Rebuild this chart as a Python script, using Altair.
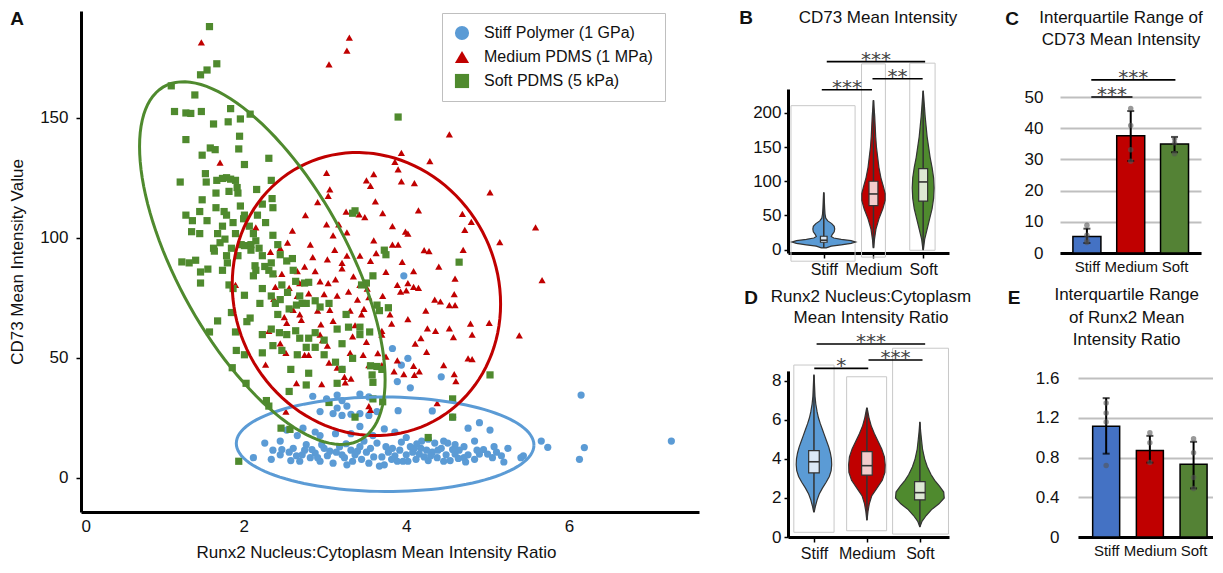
import json
import numpy as np
import pandas as pd
import altair as alt

FONT = "Liberation Sans"
INK = "#111111"

# ====================== Panel A : scatter ======================
SUBSTRATES = ["Stiff Polymer (1 GPa)", "Medium PDMS (1 MPa)", "Soft PDMS (5 kPa)"]
SCATTER_COLORS = ["#5b9bd5", "#c00000", "#4f8a2e"]
ELLIPSE_COLORS = ["#5b9bd5", "#c00000", "#4f8a2e"]
SHAPES = ["circle", "triangle-up", "square"]

stiff_pts = [
    (3.97, 84.2), (3.83, 53.9), (4.02, 49.8), (3.94, 47.0), (3.21, 45.2), (4.43, 42.1), (4.05, 37.5),
    (3.89, 40.1), (6.15, 34.5), (2.85, 34.0), (3.02, 32.9), (3.15, 34.5), (3.21, 32.2), (3.43, 34.9),
    (3.54, 33.7), (3.15, 29.1), (3.27, 29.9), (2.94, 27.6), (3.10, 26.8), (3.21, 26.0), (3.32, 26.5),
    (3.43, 26.8), (3.54, 26.0), (3.64, 27.6), (3.90, 28.0), (4.32, 27.9), (4.57, 25.3), (4.90, 23.0),
    (5.03, 19.9), (4.76, 20.7), (2.53, 19.9), (2.73, 20.7), (2.94, 17.6), (3.13, 18.4), (3.43, 21.4),
    (3.73, 20.4), (3.86, 19.1), (4.00, 16.8), (4.19, 15.3), (4.35, 14.5), (4.46, 15.3), (4.60, 13.8),
    (4.84, 15.3), (5.66, 15.3), (5.74, 12.7), (7.26, 15.3), (6.13, 7.7), (6.19, 12.6),
    (2.34, 7.7), (2.36, 11.5), (2.47, 11.8), (2.56, 10.7), (2.61, 12.3), (2.65, 9.2), (2.69, 6.9),
    (2.75, 11.5), (2.82, 8.4), (2.88, 10.3), (2.94, 6.9), (2.99, 12.3), (3.03, 9.2), (3.10, 6.1),
    (3.14, 10.7), (3.18, 13.0), (3.24, 8.4), (3.27, 5.4), (3.32, 11.5), (3.37, 9.6), (3.43, 13.0),
    (3.45, 7.7), (3.51, 10.7), (3.56, 12.3), (3.60, 8.7), (3.67, 4.9), (3.73, 5.4), (3.78, 10.7),
    (3.82, 7.7), (3.86, 9.2), (3.92, 11.5), (3.96, 6.9), (4.00, 9.6), (4.05, 13.0), (4.08, 10.7),
    (4.12, 7.7), (4.18, 12.3), (4.22, 8.7), (4.27, 7.2), (4.32, 10.7), (4.38, 8.4), (4.43, 12.3),
    (4.49, 9.6), (4.54, 7.2), (4.60, 9.9), (4.65, 11.5), (4.71, 8.4), (4.76, 9.6), (4.84, 7.7),
    (4.90, 9.9), (4.95, 11.8), (5.06, 8.4), (5.11, 10.7), (5.17, 9.2), (5.25, 12.3), (5.41, 8.4),
    (5.44, 9.2), (2.45, 9.6), (2.58, 7.2), (2.72, 9.6), (2.84, 11.8), (2.91, 8.4), (3.06, 11.1),
    (3.21, 9.6), (3.34, 6.9), (3.40, 11.1), (3.54, 6.1), (3.70, 8.7), (3.75, 13.0), (3.83, 12.3),
    (3.89, 6.9), (4.02, 6.9), (4.10, 12.3), (4.16, 9.9), (4.25, 11.5), (4.30, 9.2), (4.39, 11.5),
    (4.46, 6.9), (4.57, 11.8), (4.64, 8.1), (4.73, 6.6), (4.87, 11.5), (5.00, 9.9), (5.20, 6.6),
    (5.08, 13.0), (2.77, 13.8), (2.96, 13.8), (3.26, 14.2), (3.48, 15.3), (3.64, 14.5), (3.94, 14.9),
    (4.13, 14.2), (4.27, 16.1), (4.51, 14.5), (4.71, 13.0), (2.26, 14.5), (2.12, 8.4), (2.88, 19.1),
    (2.66, 17.6), (2.45, 15.3), (3.32, 18.4), (3.59, 17.6),
]

medium_pts = [
    (1.48, 181.5), (3.30, 183.5), (3.27, 178.1), (3.05, 172.3), (4.53, 143.2), (3.94, 135.5), (3.86, 131.7),
    (3.90, 128.6), (4.29, 132.0), (1.71, 131.4), (3.02, 127.1), (3.60, 126.6), (3.51, 124.0), (3.94, 123.6),
    (4.10, 122.8), (3.56, 121.7), (5.03, 119.0), (3.06, 120.2), (3.04, 117.5), (2.91, 114.9), (3.62, 115.2),
    (4.15, 111.5), (2.76, 109.5), (3.26, 111.0), (3.42, 109.8), (3.49, 108.7), (3.71, 110.3), (4.69, 110.0),
    (4.80, 106.7), (5.59, 104.4), (4.72, 103.4), (5.15, 98.3), (2.15, 104.4), (3.02, 105.7), (3.17, 105.7),
    (3.10, 101.1), (3.27, 102.3), (3.83, 104.9), (3.99, 102.6), (4.02, 101.8), (2.54, 98.0), (2.82, 97.2),
    (2.45, 95.7), (2.33, 94.2), (3.27, 92.6), (3.43, 92.6), (3.03, 91.1), (3.63, 93.7), (3.83, 97.2),
    (3.90, 97.2), (4.22, 94.9), (4.28, 94.5), (3.21, 89.6), (3.56, 90.4), (2.37, 85.0), (2.47, 85.0),
    (2.66, 86.2), (2.88, 86.2), (3.21, 87.3), (3.75, 85.8), (4.09, 86.2), (4.60, 83.0), (5.67, 82.4),
    (1.90, 80.4), (2.39, 79.6), (2.56, 79.2), (2.69, 81.2), (2.94, 81.9), (3.04, 81.2), (3.13, 82.7),
    (3.43, 80.4), (3.52, 78.9), (3.89, 80.4), (4.02, 81.2), (4.09, 79.6), (4.15, 79.2), (3.93, 77.6),
    (4.00, 78.1), (2.37, 74.6), (2.66, 75.8), (2.80, 76.9), (2.99, 76.6), (3.29, 77.6), (3.40, 74.3),
    (3.54, 75.3), (3.71, 75.8), (4.35, 74.3), (4.42, 73.5), (4.53, 72.0), (4.60, 72.0), (4.59, 76.6),
    (2.61, 70.0), (2.69, 68.1), (2.91, 69.7), (3.06, 70.0), (3.31, 69.7), (3.45, 68.1), (3.48, 70.4),
    (3.80, 68.1), (4.24, 69.7), (2.31, 61.3), (2.53, 64.6), (2.71, 65.8), (3.10, 65.4), (3.37, 63.6),
    (3.70, 61.3), (3.82, 64.3), (4.02, 66.2), (4.26, 62.3), (4.36, 61.3), (4.53, 62.3), (4.79, 64.3),
    (4.81, 59.7), (5.02, 64.6), (5.39, 59.4), (2.94, 59.7), (2.97, 57.4), (3.03, 55.1), (3.34, 59.0),
    (3.51, 56.7), (3.70, 59.7), (4.11, 55.9), (4.18, 58.2), (4.58, 58.7), (2.52, 52.1), (2.75, 51.3),
    (2.80, 51.3), (3.31, 52.1), (3.47, 51.3), (3.75, 50.5), (3.89, 49.0), (4.25, 52.5), (4.76, 49.8),
    (4.81, 49.5), (2.27, 47.2), (3.15, 45.9), (3.54, 47.0), (3.70, 47.0), (3.85, 44.4), (4.09, 46.7),
    (4.16, 44.4), (4.46, 47.0), (3.24, 42.1), (3.32, 41.3), (3.97, 43.2), (4.10, 42.9), (4.59, 43.2),
    (4.61, 40.3), (2.65, 39.5), (2.96, 39.1), (3.25, 39.8), (3.54, 29.9), (3.56, 28.3), (2.52, 27.6),
    (4.38, 31.1), (2.85, 92.0), (3.12, 95.0), (2.60, 103.0), (2.75, 88.0), (3.35, 84.0), (3.60, 99.0),
    (2.50, 67.0), (2.95, 64.0), (3.65, 52.0), (3.05, 48.0), (2.45, 56.0), (4.40, 88.0), (3.95, 90.0),
    (4.70, 95.0), (3.15, 76.0),
]

soft_pts = [
    (1.58, 188.1), (1.67, 172.6), (1.55, 170.0), (1.47, 168.0), (1.11, 163.4), (1.40, 159.6), (1.15, 152.7),
    (1.29, 152.1), (1.35, 151.9), (1.48, 152.7), (1.84, 153.9), (1.96, 149.6), (2.08, 151.6), (1.29, 141.0),
    (1.63, 147.5), (1.81, 148.4), (1.95, 142.4), (1.94, 137.1), (1.49, 134.5), (1.59, 137.5), (1.65, 136.8),
    (2.31, 133.2), (2.01, 130.6), (1.22, 123.3), (1.53, 126.8), (1.54, 123.3), (1.67, 124.0), (1.74, 124.8),
    (1.79, 125.1), (1.84, 124.5), (1.90, 124.0), (1.92, 121.0), (1.93, 118.7), (1.82, 119.4), (1.66, 118.7),
    (1.49, 115.9), (2.16, 120.2), (2.34, 124.0), (2.35, 116.4), (1.46, 111.0), (1.55, 107.2), (1.29, 109.5),
    (1.37, 107.2), (1.36, 102.6), (1.46, 101.8), (1.76, 111.0), (1.79, 109.5), (1.87, 106.4), (1.96, 113.3),
    (2.00, 108.0), (2.07, 104.9), (2.17, 109.5), (2.36, 112.6), (2.27, 106.4), (1.24, 90.0), (1.33, 89.6),
    (1.41, 90.7), (1.47, 85.8), (1.47, 81.2), (1.56, 87.0), (1.63, 95.7), (1.64, 94.5), (1.71, 98.0),
    (1.77, 99.5), (1.79, 92.6), (1.80, 89.6), (1.85, 95.7), (1.90, 101.8), (1.97, 97.2), (2.01, 96.8),
    (2.09, 97.2), (2.12, 101.8), (2.15, 98.8), (2.09, 94.9), (2.19, 95.7), (2.23, 92.6), (2.14, 88.4),
    (2.15, 86.5), (2.26, 88.1), (2.34, 89.6), (2.31, 86.5), (2.36, 85.0), (1.82, 80.4), (2.01, 76.1),
    (2.08, 66.6), (1.85, 68.9), (1.68, 65.4), (1.58, 60.8), (1.90, 60.8), (1.91, 53.1), (2.01, 51.3),
    (1.86, 45.9), (2.03, 39.4), (2.28, 32.2), (2.31, 29.9), (2.46, 20.7), (2.57, 20.2), (1.94, 6.9),
    (2.45, 93.0), (2.53, 90.4), (2.60, 91.4), (2.61, 86.5), (2.47, 80.4), (2.54, 77.3), (2.64, 81.9),
    (2.69, 75.8), (2.75, 81.2), (2.80, 81.5), (2.39, 72.7), (2.42, 68.1), (2.45, 74.3), (2.56, 70.4),
    (2.65, 72.0), (2.72, 72.7), (2.77, 72.7), (2.88, 73.8), (2.94, 71.2), (3.05, 72.7), (2.34, 62.0),
    (2.44, 60.5), (2.53, 59.7), (2.64, 61.3), (2.69, 58.2), (2.80, 58.2), (2.88, 60.5), (2.99, 57.4),
    (3.15, 62.0), (3.21, 55.9), (3.26, 68.1), (3.29, 62.8), (3.43, 62.8), (3.43, 59.7), (3.55, 60.8),
    (3.64, 72.0), (3.67, 69.7), (3.78, 70.9), (2.23, 52.1), (2.36, 55.1), (2.47, 53.1), (2.58, 45.2),
    (2.77, 54.4), (2.88, 54.4), (2.99, 51.3), (3.13, 48.2), (3.21, 45.2), (3.34, 49.8), (3.56, 46.7),
    (3.58, 42.9), (3.64, 46.4), (3.70, 45.2), (2.56, 36.0), (2.77, 38.7), (3.15, 39.4), (3.59, 39.8),
    (3.71, 31.7), (3.37, 111.3), (3.34, 110.3), (3.51, 81.2), (3.59, 84.2), (3.73, 94.9), (3.75, 93.0),
    (3.45, 80.4), (3.90, 150.4), (4.65, 89.9), (5.03, 42.9), (4.57, 32.9), (4.57, 25.3), (4.27, 16.8),
    (1.74, 104.9), (1.68, 101.8), (1.93, 92.6), (1.74, 86.5), (2.12, 84.2), (2.23, 78.9), (2.34, 75.8),
    (1.87, 78.9), (2.20, 72.7), (2.01, 109.5), (1.66, 112.6), (2.23, 114.1), (2.36, 101.1), (2.42, 97.2),
    (2.04, 65.1), (2.23, 59.7), (2.66, 51.3), (2.80, 43.6), (3.05, 31.4), (3.37, 25.3), (3.59, 32.9),
]

# ellipse outlines (centre, semi-extent along x / y, phase between x and y)
ell_cx = [3.74, 3.51, 2.23]
ell_cy = [14.0, 76.6, 89.5]
ell_rx = [1.83, 1.65, 1.51]
ell_ry = [19.7, 59.0, 75.6]
ell_phase = [91.0, 94.0, 130.0]

# ====================== Panels B-E ======================
GROUPS = ["Stiff", "Medium", "Soft"]
VIOLIN_COLORS = ["#5b9bd5", "#c00000", "#4f8a2e"]
BOX_COLORS = ["#dbe8f6", "#f3cccc", "#dde8d4"]
BAR_COLORS = ["#4472c4", "#c00000", "#548235"]

# B: CD73 violin profiles (value, half width in group units)
B_vals = [
    [2.5, 5, 7, 9, 11, 13, 15, 17, 19, 22, 26, 30, 34, 38, 42, 46, 52, 60, 70, 83],
    [3, 15, 30, 45, 60, 72, 82, 92, 105, 120, 135, 150, 165, 180, 195, 208, 218],
    [0, 15, 30, 45, 60, 75, 90, 105, 120, 135, 150, 165, 180, 195, 210, 225, 232],
]
B_hw = [
    [0.05, 0.15, 0.35, 0.55, 0.64, 0.55, 0.35, 0.2, 0.15, 0.17, 0.21, 0.22, 0.21, 0.16, 0.08, 0.04, 0.025, 0.018, 0.012, 0.004],
    [0.005, 0.02, 0.05, 0.11, 0.19, 0.235, 0.235, 0.2, 0.15, 0.11, 0.085, 0.06, 0.045, 0.035, 0.025, 0.012, 0.003],
    [0.005, 0.03, 0.08, 0.13, 0.18, 0.21, 0.22, 0.21, 0.18, 0.14, 0.11, 0.08, 0.06, 0.04, 0.025, 0.01, 0.002],
]
B_lo = [2.5, 3, 0]
B_q1 = [10.7, 64.4, 71]
B_med = [13.7, 81.4, 99]
B_q3 = [19.5, 100, 118.5]
B_hi = [83, 218, 232]
B_box_hw = [0.067, 0.09, 0.09]
B_frame_x0 = [-0.66, 0.76, 1.73]
B_frame_x1 = [0.63, 1.24, 2.24]
B_frame_y0 = [-17, -11, -1]
B_frame_y1 = [210.6, 271.8, 272.8]
B_br_x0 = [-0.04, 0.98, 0.06]
B_br_x1 = [0.97, 1.99, 2.04]
B_br_level = [234, 250, 275]
B_br_stars = ["***", "**", "***"]

# C: IQR of CD73
C_iqr = [5.3, 37.6, 34.9]
C_lo = [3.2, 29.5, 32.3]
C_hi = [7.8, 45.5, 37.2]
C_dots = [[8.9, 5.7, 4.0, 3.4], [46.3, 40.9, 33.1, 29.4], [36.6, 35.3, 31.8]]
C_br_x0 = [0.10, 0.10]
C_br_x1 = [1.04, 2.02]
C_br_level = [50, 55.5]
C_br_stars = ["***", "***"]

# D: Runx2 ratio violins
D_vals = [
    [1.28, 1.6, 1.9, 2.2, 2.5, 2.8, 3.1, 3.4, 3.7, 4.0, 4.3, 4.6, 4.9, 5.2, 5.5, 5.8, 6.1, 6.4, 6.8, 7.2, 7.7, 8.28],
    [0.87, 1.3, 1.7, 2.1, 2.5, 2.9, 3.3, 3.7, 4.1, 4.5, 4.9, 5.3, 5.7, 6.1, 6.6],
    [0.53, 0.8, 1.1, 1.4, 1.7, 2.0, 2.3, 2.6, 2.9, 3.2, 3.6, 4.0, 4.5, 5.0, 5.4, 5.87],
]
D_hw = [
    [0.005, 0.03, 0.06, 0.1, 0.16, 0.23, 0.29, 0.325, 0.335, 0.33, 0.31, 0.28, 0.24, 0.2, 0.16, 0.12, 0.085, 0.06, 0.035, 0.02, 0.012, 0.003],
    [0.003, 0.02, 0.045, 0.09, 0.19, 0.29, 0.34, 0.345, 0.33, 0.28, 0.21, 0.14, 0.08, 0.04, 0.005],
    [0.003, 0.04, 0.12, 0.22, 0.36, 0.46, 0.45, 0.37, 0.28, 0.21, 0.14, 0.09, 0.05, 0.03, 0.015, 0.002],
]
D_lo = [1.28, 0.87, 0.53]
D_q1 = [3.28, 3.17, 1.9]
D_med = [3.85, 3.65, 2.27]
D_q3 = [4.42, 4.37, 2.83]
D_hi = [8.28, 6.6, 5.87]
D_box_hw = [0.1, 0.1, 0.1]
D_frame_x0 = [-0.38, 0.617, 1.485]
D_frame_x1 = [0.38, 1.372, 2.54]
D_frame_y0 = [0.24, 0.32, 0.15]
D_frame_y1 = [8.8, 8.2, 9.66]
D_br_x0 = [0.006, 1.03, 0.05]
D_br_x1 = [1.025, 2.05, 2.1]
D_br_level = [8.63, 9.06, 9.88]
D_br_stars = ["*", "***", "***"]

# E: IQR of Runx2 ratio
E_iqr = [1.116, 0.873, 0.733]
E_lo = [0.84, 0.75, 0.49]
E_hi = [1.40, 1.02, 0.96]
E_dots = [[1.35, 1.25, 1.16, 0.72], [1.05, 0.95, 0.75], [0.99, 0.85, 0.60, 0.49]]

LABEL_EXPR = json.dumps(GROUPS) + "[datum.value]"


def text_mark(txt, x, y, size=17, weight="normal", baseline="top", line_height=22):
    return alt.Chart(pd.DataFrame({"label": [txt]})).mark_text(
        font=FONT, fontSize=size, fontWeight=weight, color=INK, align="center",
        baseline=baseline, lineBreak="\n", lineHeight=line_height,
    ).encode(text="label:N", x=alt.value(x), y=alt.value(y))


def letter_mark(ch, x, y):
    return text_mark(ch, x, y, size=19, weight="bold", baseline="middle")


def bracket_layers(x0, x1, level, stars):
    df = pd.DataFrame({"x0": x0, "x1": x1, "level": level, "stars": stars})
    rules = alt.Chart(df).mark_rule(color="black", strokeWidth=1.6).encode(
        x=alt.X("x0:Q", title=None), x2="x1:Q", y=alt.Y("level:Q", title=None)
    )
    text = alt.Chart(df).transform_calculate(mid="(datum.x0 + datum.x1) / 2").mark_text(
        font="DejaVu Sans", fontSize=20, color="#444444", baseline="alphabetic", dy=4
    ).encode(x=alt.X("mid:Q", title=None), y=alt.Y("level:Q", title=None), text="stars:N")
    return [rules, text]


def violin_layers(vals, hws, lo, q1, med, q3, hi, box_hw, fx0, fx1, fy0, fy1,
                  bx0, bx1, blevel, bstars, xdom, xrange, ydom, yrange, yvalues, x_offset):
    vrows = []
    for i, g in enumerate(GROUPS):
        for v, w in zip(vals[i], hws[i]):
            vrows.append({"group": g, "pos": i, "value": v, "hw": w})
    vdf = pd.DataFrame(vrows)
    sdf = pd.DataFrame({"group": GROUPS, "pos": [0, 1, 2], "lo": lo, "q1": q1, "med": med,
                        "q3": q3, "hi": hi, "bw": box_hw})
    fdf = pd.DataFrame({"x0": fx0, "x1": fx1, "y0": fy0, "y1": fy1})

    xs = alt.Scale(domain=xdom, range=xrange, nice=False, zero=False)
    ys = alt.Scale(domain=ydom, range=yrange, nice=False, zero=False)
    xax = alt.Axis(orient="bottom", offset=x_offset, values=[0, 1, 2], labelExpr=LABEL_EXPR,
                   title=None, grid=False, domainColor="black", domainWidth=3, tickColor="black",
                   tickSize=5, tickWidth=1.5, labelPadding=3, labelFont=FONT, labelFontSize=16,
                   labelColor=INK)
    yax = alt.Axis(orient="left", values=yvalues, format="d", title=None, grid=False,
                   domainColor="black", domainWidth=3, tickColor="black", tickSize=4, tickWidth=1.5,
                   labelPadding=3, labelFont=FONT, labelFontSize=17, labelColor=INK)

    frames = alt.Chart(fdf).mark_rect(fillOpacity=0, stroke="#c8c8c8", strokeWidth=1).encode(
        x=alt.X("x0:Q", scale=xs, axis=xax), x2="x1:Q",
        y=alt.Y("y0:Q", scale=ys, axis=yax), y2="y1:Q",
    )
    violin = alt.Chart(vdf).transform_calculate(
        left="datum.pos - datum.hw", right="datum.pos + datum.hw"
    ).mark_area(orient="horizontal", stroke="#333333", strokeWidth=1.2, opacity=1).encode(
        y=alt.Y("value:Q", title=None),
        x=alt.X("left:Q", title=None, stack=None), x2="right:Q",
        color=alt.Color("group:N", scale=alt.Scale(domain=GROUPS, range=VIOLIN_COLORS), legend=None),
    )
    whisk = alt.Chart(sdf).mark_rule(color="#333333", strokeWidth=1.5).encode(
        x=alt.X("pos:Q", title=None), y=alt.Y("lo:Q", title=None), y2="hi:Q"
    )
    box = alt.Chart(sdf).transform_calculate(
        bl="datum.pos - datum.bw", br="datum.pos + datum.bw"
    ).mark_rect(stroke="#333333", strokeWidth=1.2).encode(
        x=alt.X("bl:Q", title=None), x2="br:Q", y=alt.Y("q1:Q", title=None), y2="q3:Q",
        fill=alt.Fill("group:N", scale=alt.Scale(domain=GROUPS, range=BOX_COLORS), legend=None),
    )
    median = alt.Chart(sdf).transform_calculate(
        bl="datum.pos - datum.bw", br="datum.pos + datum.bw"
    ).mark_rule(color="#333333", strokeWidth=1.6).encode(
        x=alt.X("bl:Q", title=None), x2="br:Q", y=alt.Y("med:Q", title=None)
    )
    layers = [frames, violin, whisk, box, median] + bracket_layers(bx0, bx1, blevel, bstars)
    return alt.layer(*layers)


def bar_layers(iqr, lo, hi, dots, xdom, xrange, ydom, yrange, yvalues, ylabel_pad, bar_size,
               brackets, x_offset, label_expr):
    bdf = pd.DataFrame({"group": GROUPS, "pos": [0, 1, 2], "iqr": iqr, "lo": lo, "hi": hi})
    drows = []
    for i, vals in enumerate(dots):
        for v in vals:
            drows.append({"pos": i, "val": v})
    ddf = pd.DataFrame(drows)

    xs = alt.Scale(domain=xdom, range=xrange, nice=False, zero=False)
    ys = alt.Scale(domain=ydom, range=yrange, nice=False, zero=False)
    xax = alt.Axis(orient="bottom", offset=x_offset, values=[0, 1, 2], labelExpr=LABEL_EXPR,
                   title=None, grid=False, domainColor="black", domainWidth=3, ticks=False,
                   labelPadding=6, labelFont=FONT, labelFontSize=15, labelColor=INK)
    yax = alt.Axis(orient="left", values=yvalues, labelExpr=label_expr, title=None, grid=True,
                   gridColor="#bfbfbf", gridWidth=2, domain=False, ticks=False,
                   labelPadding=ylabel_pad, labelFont=FONT, labelFontSize=17, labelColor=INK)

    bars = alt.Chart(bdf).mark_bar(size=bar_size, stroke="black", strokeWidth=1.5).encode(
        x=alt.X("pos:Q", scale=xs, axis=xax),
        y=alt.Y("iqr:Q", scale=ys, axis=yax),
        color=alt.Color("group:N", scale=alt.Scale(domain=GROUPS, range=BAR_COLORS), legend=None),
    )
    err = alt.Chart(bdf).mark_rule(color="black", strokeWidth=2).encode(
        x=alt.X("pos:Q", title=None), y=alt.Y("lo:Q", title=None), y2="hi:Q"
    )
    cap_lo = alt.Chart(bdf).mark_tick(orient="horizontal", size=7, thickness=2, color="black").encode(
        x=alt.X("pos:Q", title=None), y=alt.Y("lo:Q", title=None)
    )
    cap_hi = alt.Chart(bdf).mark_tick(orient="horizontal", size=7, thickness=2, color="black").encode(
        x=alt.X("pos:Q", title=None), y=alt.Y("hi:Q", title=None)
    )
    pts = alt.Chart(ddf).mark_circle(size=30, color="#555555", opacity=0.6).encode(
        x=alt.X("pos:Q", title=None), y=alt.Y("val:Q", title=None)
    )
    layers = [bars, err, cap_lo, cap_hi, pts]
    if brackets:
        layers += bracket_layers(*brackets)
    return alt.layer(*layers)


# ---------------- build panel A ----------------
rows = []
for name, pts in zip(SUBSTRATES, [stiff_pts, medium_pts, soft_pts]):
    for x, y in pts:
        rows.append({"substrate": name, "ratio": x, "cd73": y})
scatter_df = pd.DataFrame(rows)

tt = np.linspace(0, 2 * np.pi, 121)
erows = []
for i, name in enumerate(SUBSTRATES):
    ph = np.deg2rad(ell_phase[i])
    for k, t in enumerate(tt):
        erows.append({"ellipse": name, "k": k,
                      "ex": ell_cx[i] + ell_rx[i] * np.cos(t),
                      "ey": ell_cy[i] + ell_ry[i] * np.cos(t - ph)})
ell_df = pd.DataFrame(erows)

X_TITLE_A = "Runx2 Nucleus:Cytoplasm Mean Intensity Ratio"
Y_TITLE_A = "CD73 Mean Intensity Value"
xA_axis = alt.Axis(values=[0, 2, 4, 6], format="d", title=X_TITLE_A,
                   grid=False, ticks=False, domainColor="black", domainWidth=3, labelPadding=6,
                   labelFont=FONT, labelFontSize=17, labelColor=INK, titleFont=FONT,
                   titleFontSize=17, titleFontWeight="normal", titleColor=INK, titlePadding=10,
                   titleX=295, titleAlign="center")
yA_axis = alt.Axis(values=[0, 50, 100, 150], format="d", title=Y_TITLE_A, grid=False,
                   domainColor="black", domainWidth=3, tickColor="black", tickSize=5, tickWidth=1.5,
                   labelPadding=8, labelFont=FONT, labelFontSize=17, labelColor=INK,
                   titleFont=FONT, titleFontSize=17, titleFontWeight="normal", titleColor=INK,
                   titlePadding=13)
xA_scale = alt.Scale(domain=[0, 7.6], nice=False, zero=False)
yA_scale = alt.Scale(domain=[-14.25, 194.6], range=[504, 3], nice=False, zero=False)
legA = alt.Legend(title=None, orient="none", legendX=361, legendY=5, padding=12, rowPadding=8,
                  symbolSize=200, symbolStrokeWidth=0, labelFont=FONT, labelFontSize=16,
                  labelColor=INK, labelOffset=14, labelLimit=400, strokeColor="#bfbfbf",
                  fillColor="white")

pointsA = alt.Chart(scatter_df).mark_point(filled=True, size=52, opacity=1).encode(
    x=alt.X("ratio:Q", scale=xA_scale, axis=xA_axis, title=X_TITLE_A),
    y=alt.Y("cd73:Q", scale=yA_scale, axis=yA_axis, title=Y_TITLE_A),
    color=alt.Color("substrate:N", scale=alt.Scale(domain=SUBSTRATES, range=SCATTER_COLORS), legend=legA),
    shape=alt.Shape("substrate:N", scale=alt.Scale(domain=SUBSTRATES, range=SHAPES), legend=legA),
)
ellA = alt.Chart(ell_df).mark_line(strokeWidth=3).encode(
    x=alt.X("ex:Q", axis=xA_axis, title=X_TITLE_A),
    y=alt.Y("ey:Q", axis=yA_axis, title=Y_TITLE_A),
    stroke=alt.Stroke("ellipse:N", scale=alt.Scale(domain=SUBSTRATES, range=ELLIPSE_COLORS), legend=None),
    detail="ellipse:N", order="k:Q",
)
panelA = alt.layer(pointsA, ellA, letter_mark("A", -64, 11)).properties(width=618, height=504)

# ---------------- right column pair B/D ----------------
B_layer = violin_layers(
    B_vals, B_hw, B_lo, B_q1, B_med, B_q3, B_hi, B_box_hw,
    B_frame_x0, B_frame_x1, B_frame_y0, B_frame_y1,
    B_br_x0, B_br_x1, B_br_level, B_br_stars,
    xdom=[-0.72, 2.52], xrange=[0, 161], ydom=[-5, 235], yrange=[245, 81],
    yvalues=[0, 50, 100, 150, 200], x_offset=245 - 529,
)
D_layer = violin_layers(
    D_vals, D_hw, D_lo, D_q1, D_med, D_q3, D_hi, D_box_hw,
    D_frame_x0, D_frame_x1, D_frame_y0, D_frame_y1,
    D_br_x0, D_br_x1, D_br_level, D_br_stars,
    xdom=[-0.49, 2.55], xrange=[0, 161], ydom=[0, 8.5], yrange=[529, 362.9],
    yvalues=[0, 2, 4, 6, 8], x_offset=0,
)
panelBD = alt.layer(
    B_layer, D_layer,
    text_mark("CD73 Mean Intensity", 90, 10, baseline="middle"),
    letter_mark("B", -42, 10),
    text_mark("Runx2 Nucleus:Cytoplasm\nMean Intensity Ratio", 83, 280.7, line_height=21.6),
    letter_mark("D", -37, 290),
).resolve_scale(x="independent", y="independent").properties(width=183, height=529)

# ---------------- right column pair C/E ----------------
C_layer = bar_layers(
    C_iqr, C_lo, C_hi, C_dots, xdom=[-0.5, 2.49], xrange=[0, 141], ydom=[0, 50], yrange=[245, 89],
    yvalues=[0, 10, 20, 30, 40, 50], ylabel_pad=17, bar_size=28,
    brackets=(C_br_x0, C_br_x1, C_br_level, C_br_stars), x_offset=245 - 529,
    label_expr="format(datum.value, 'd')",
)
E_layer = bar_layers(
    E_iqr, E_lo, E_hi, E_dots, xdom=[-0.53, 2.33], xrange=[18, 153], ydom=[0, 1.6],
    yrange=[529, 370.3], yvalues=[0, 0.4, 0.8, 1.2, 1.6], ylabel_pad=1, bar_size=27,
    brackets=None, x_offset=0,
    label_expr="datum.value == 0 ? '0' : format(datum.value, '.1f')",
)
panelCE = alt.layer(
    C_layer, E_layer,
    text_mark("Interquartile Range of\nCD73 Mean Intensity", 61, 2, line_height=22),
    letter_mark("C", -48, 11),
    text_mark("Interquartile Range\nof Runx2 Mean\nIntensity Ratio", 66.7, 279, line_height=22.5),
    letter_mark("E", -46, 290),
).resolve_scale(x="independent", y="independent").properties(width=153, height=529)

RES = dict(color="independent", fill="independent", stroke="independent", shape="independent")
chart = (
    alt.hconcat(panelA, panelBD, panelCE, spacing=89, bounds="flush")
    .resolve_scale(**RES)
    .properties(padding={"left": 0, "top": 0, "right": 0, "bottom": 0}, background="white")
    .configure(font=FONT)
    .configure_view(stroke=None)
)

chart.save("out.html", embed_options={"renderer": "svg", "actions": False})
